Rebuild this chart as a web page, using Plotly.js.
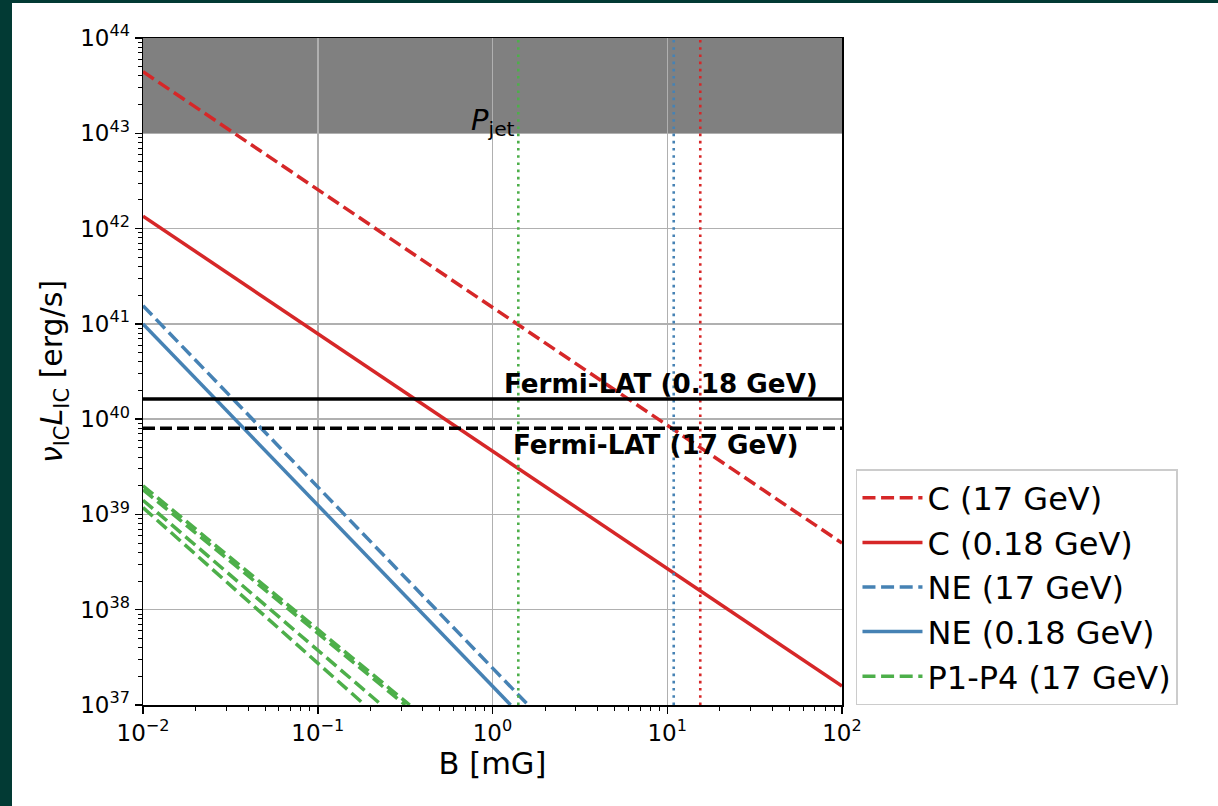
<!DOCTYPE html>
<html>
<head>
<meta charset="utf-8">
<script src="https://cdn.plot.ly/plotly-3.0.1.min.js"></script>
<style>
  html, body { margin: 0; padding: 0; background: #023a34; width: 1218px; height: 806px; overflow: hidden; }
  #chart { position: absolute; left: 12px; top: 3px; width: 1206px; height: 803px; background: #ffffff; }
</style>
</head>
<body>
<div id="chart"></div>
<script>
// ---- data ----
const B_full = [0.01, 100];                 // B [mG] at the plot edges
const C_17GeV = [4.43e43, 5.0e38];          // nuL at B_full
const C_018GeV = [1.35e42, 1.58e37];        // nuL at B_full
const NE_17GeV_B = [0.01, 1.60];
const NE_17GeV_L = [1.55e41, 1.0e37];
const NE_018GeV_B = [0.01, 1.27];
const NE_018GeV_L = [1.0e41, 1.0e37];
const P_start_B = 0.01;
const P_end_B = [0.336, 0.317, 0.232, 0.186];
const P_start_L = [2.0e39, 1.82e39, 1.41e39, 1.18e39];
const P_end_L = 1.0e37;
const Bvert_P = 1.405;    // green dotted
const Bvert_NE = 10.89;   // blue dotted
const Bvert_C = 15.45;    // red dotted
const Fermi_018 = 1.63e40;
const Fermi_17 = 8.02e39;
const Pjet = [1e43, 1e44];
const yRange = [1e37, 1e44];
const xTickVals = [0.01, 0.1, 1, 10, 100];
const xTickText = ['10<sup>−2</sup>', '10<sup>−1</sup>', '10<sup>0</sup>', '10<sup>1</sup>', '10<sup>2</sup>'];
const yTickVals = [1e37, 1e38, 1e39, 1e40, 1e41, 1e42, 1e43, 1e44];
const yTickText = ['10<sup>37</sup>', '10<sup>38</sup>', '10<sup>39</sup>', '10<sup>40</sup>', '10<sup>41</sup>', '10<sup>42</sup>', '10<sup>43</sup>', '10<sup>44</sup>'];
const legendNames = ['C (17 GeV)', 'C (0.18 GeV)', 'NE (17 GeV)', 'NE (0.18 GeV)', 'P1-P4 (17 GeV)'];

// ---- styling ----
const RED = '#d62728', BLUE = '#4682b4', GREEN = '#4daf4a';
const FONT = 'DejaVu Sans, Liberation Sans, sans-serif';
const LW = 3.5;
const DASH = '13px,5.6px';
const DOT = '2.6px,4.6px';

function minorTicks(lo, hi) {
  const out = [];
  for (let e = lo; e < hi; e++) for (let k = 2; k <= 9; k++) out.push(k * Math.pow(10, e));
  return out;
}

const traces = [];
traces.push({x: B_full, y: C_17GeV, mode: 'lines', name: legendNames[0], legendgroup: 'g0',
  line: {color: RED, width: LW, dash: DASH}});
traces.push({x: B_full, y: C_018GeV, mode: 'lines', name: legendNames[1], legendgroup: 'g1',
  line: {color: RED, width: LW}});
traces.push({x: NE_17GeV_B, y: NE_17GeV_L, mode: 'lines', name: legendNames[2], legendgroup: 'g2',
  line: {color: BLUE, width: LW, dash: DASH}});
traces.push({x: NE_018GeV_B, y: NE_018GeV_L, mode: 'lines', name: legendNames[3], legendgroup: 'g3',
  line: {color: BLUE, width: LW}});
for (let i = 0; i < P_end_B.length; i++) {
  traces.push({x: [P_start_B, P_end_B[i]], y: [P_start_L[i], P_end_L], mode: 'lines',
    name: legendNames[4], legendgroup: 'g4', showlegend: i === 0,
    line: {color: GREEN, width: LW, dash: DASH}});
}
[[Bvert_P, GREEN], [Bvert_NE, BLUE], [Bvert_C, RED]].forEach(function (v) {
  traces.push({x: [v[0], v[0]], y: yRange, mode: 'lines', showlegend: false, hoverinfo: 'skip',
    line: {color: v[1], width: 2.6, dash: DOT}});
});
traces.push({x: B_full, y: [Fermi_018, Fermi_018], mode: 'lines', showlegend: false,
  line: {color: '#000000', width: LW}});
traces.push({x: B_full, y: [Fermi_17, Fermi_17], mode: 'lines', showlegend: false,
  line: {color: '#000000', width: LW, dash: '12px,5px'}});

const axisCommon = {
  type: 'log', showline: true, linecolor: '#000000', linewidth: 1.5, mirror: true,
  ticks: 'outside', ticklen: 7, tickwidth: 1.5, tickcolor: '#000000',
  showgrid: true, gridcolor: '#b0b0b0', gridwidth: 1.5, zeroline: false,
  tickmode: 'array', tickfont: {family: FONT, size: 23, color: '#000000'},
};

const layout = {
  width: 1206, height: 803,
  margin: {l: 131, r: 376, t: 35, b: 101},
  paper_bgcolor: '#ffffff', plot_bgcolor: '#ffffff',
  font: {family: FONT, color: '#000000'},
  showlegend: true,
  xaxis: Object.assign({}, axisCommon, {
    range: [Math.log10(B_full[0]), Math.log10(B_full[1])],
    tickvals: xTickVals, ticktext: xTickText,
    minor: {tickmode: 'array', tickvals: minorTicks(-2, 2), ticks: 'outside', ticklen: 4, tickwidth: 1, tickcolor: '#000000', showgrid: false},
    title: {text: 'B [mG]', font: {family: FONT, size: 30.5, color: '#000000'}, standoff: 6},
  }),
  yaxis: Object.assign({}, axisCommon, {
    range: [Math.log10(yRange[0]), Math.log10(yRange[1])],
    tickvals: yTickVals, ticktext: yTickText,
    minor: {tickmode: 'array', tickvals: minorTicks(37, 44), ticks: 'outside', ticklen: 4, tickwidth: 1, tickcolor: '#000000', showgrid: false},
    title: {text: '<i>ν</i><sub>IC</sub><i>L</i><sub>IC</sub> [erg/s]', font: {family: FONT, size: 30, color: '#000000'}, standoff: 8},
  }),
  shapes: [{type: 'rect', xref: 'paper', yref: 'y', x0: 0, x1: 1, y0: Pjet[0], y1: Pjet[1],
    fillcolor: '#808080', line: {width: 0}, layer: 'below'}],
  annotations: [
    {text: '<b>Fermi-LAT (0.18 GeV)</b>', xref: 'x', yref: 'y', x: Math.log10(75), y: Math.log10(Fermi_018),
      xanchor: 'right', yanchor: 'bottom', yshift: -2, showarrow: false, font: {family: FONT, size: 26.2, color: '#000000'}},
    {text: '<b>Fermi-LAT (17 GeV)</b>', xref: 'x', yref: 'y', x: Math.log10(1.27), y: Math.log10(Fermi_17),
      xanchor: 'left', yanchor: 'top', yshift: 0, showarrow: false, font: {family: FONT, size: 26.2, color: '#000000'}},
    {text: '<i>P</i><sub>jet</sub>', xref: 'x', yref: 'y', x: Math.log10(0.73), y: Math.log10(Pjet[0]),
      xanchor: 'left', yanchor: 'bottom', yshift: -10, showarrow: false, font: {family: FONT, size: 29, color: '#000000'}},
  ],
  legend: {x: 1.02, xanchor: 'left', y: 0, yanchor: 'bottom', bgcolor: 'rgba(255,255,255,0.8)',
    bordercolor: '#cccccc', borderwidth: 1.5, font: {family: FONT, size: 32, color: '#000000'},
    itemwidth: 60, tracegroupgap: 3, traceorder: 'normal'},
};

Plotly.newPlot('chart', traces, layout, {staticPlot: true, displayModeBar: false});
</script>
</body>
</html>
